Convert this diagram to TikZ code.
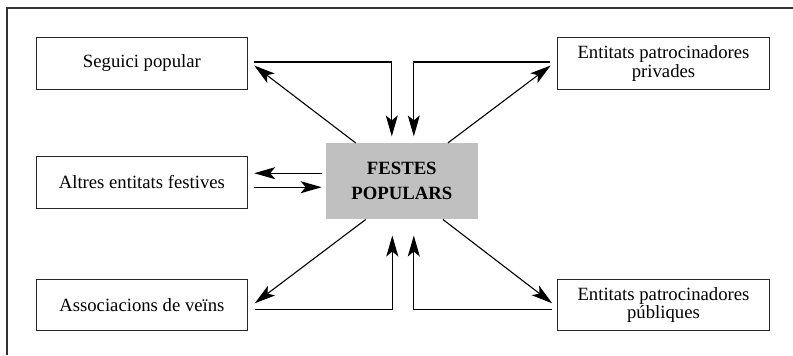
\documentclass[tikz,border=0pt]{standalone}
\usepackage{fontspec}
\setmainfont{Liberation Serif}
\usepackage{tikz}
\usetikzlibrary{arrows.meta,calc}
\definecolor{framegray}{RGB}{50,50,50}
\definecolor{festesgray}{RGB}{192,192,192}

\begin{document}
\begin{tikzpicture}[
    x=0.5pt, y=-0.5pt,
    every node/.style={align=center, font=\fontsize{9.35}{9.3}\selectfont},
    entity/.style={rectangle, minimum width=105.8pt, minimum height=25.8pt, text centered, draw=black!85, line width=0.5pt, inner sep=0pt},
    central/.style={rectangle, minimum width=75.75pt, minimum height=37.9pt, text centered, fill=festesgray, inner sep=0pt, font=\fontsize{9.35}{12.5}\selectfont\bfseries},
    arrow/.style={line width=0.55pt, -{Stealth[length=10.5pt, width=6pt, inset=2.5pt]}}
]
\useasboundingbox (0,0) rectangle (793,355);

% Frame
\draw[framegray, line width=0.7pt] (7,355) -- (7,8) -- (793,8);

% Main components
\node[central] (festes) at (401.8,181.2) {FESTES\\POPULARS};
\node[entity] (seguici) at (141.9,63.5) {Seguici popular};
\node[entity] (altres) at (141.9,182.2) {Altres entitats festives};
\node[entity] (assoc) at (141.9,304.8) {Associacions de veïns};
\node[entity] (privades) at (663.5,63.5) {Entitats patrocinadores\\privades};
\node[entity] (publiques) at (663.5,304.8) {Entitats patrocinadores\\públiques};

% Connections
\draw[arrow] ($(festes.north west)+(30,0)$) -- ($(seguici.east)+(6,2)$);
\draw[arrow] ($(seguici.east)+(6,-1.5)$) -| ($(festes.north)+(-10,-6.5)$);
\draw[arrow] ($(festes.north east)+(-30,0)$) -- ($(privades.west)+(-6.5,2)$);
\draw[arrow] ($(privades.west)+(-7.5,-1.5)$) -| ($(festes.north)+(12,-6.5)$);
\draw[arrow] ($(festes.west |- altres.east)+(-4,-9)$) -- ($(altres.east)+(6,-9)$);
\draw[arrow] ($(altres.east)+(6,5)$) -- ($(festes.west |- altres.east)+(-4,5)$);
\draw[arrow] ($(festes.south west)+(40,0)$) -- ($(assoc.east)+(6.5,-1.5)$);
\draw[arrow] ($(assoc.east)+(7,4.5)$) -| ($(festes.south)+(-9.5,16)$);
\draw[arrow] ($(festes.south east)+(-35,0)$) -- ($(publiques.west)+(-5,-1.5)$);
\draw[arrow] ($(publiques.west)+(-5,4.5)$) -| ($(festes.south)+(12,16)$);

\end{tikzpicture}
\end{document}
